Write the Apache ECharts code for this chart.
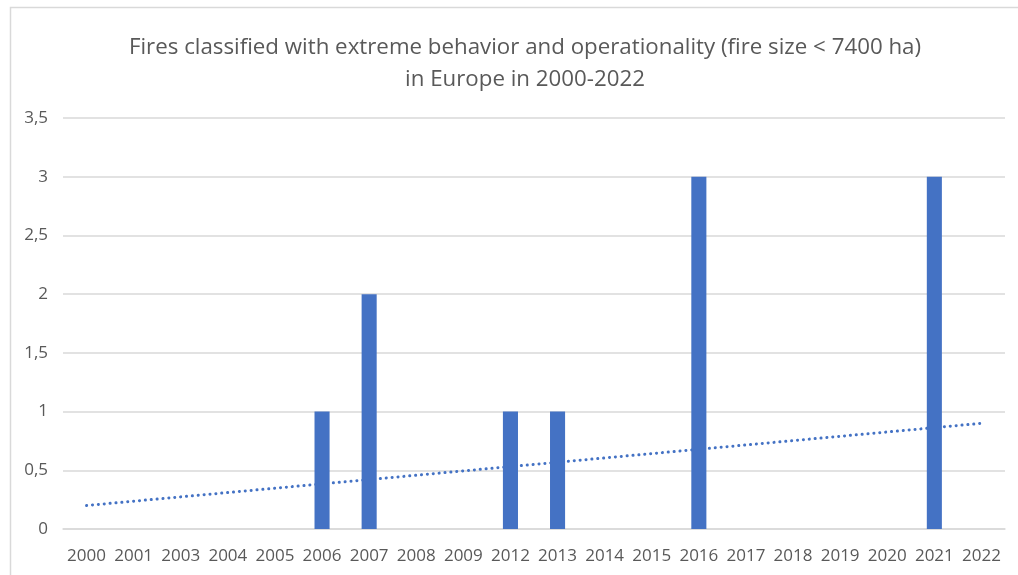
<!DOCTYPE html>
<html>
<head>
<meta charset="utf-8">
<script src="https://cdn.jsdelivr.net/npm/echarts@6/dist/echarts.min.js"></script>
<style>
  html, body { margin: 0; padding: 0; background: #fff; }
  #chart { width: 1018px; height: 575px; }
</style>
</head>
<body>
<div id="chart"></div>
<script>
// Years shown on the category axis (2002, 2010 and 2011 are not listed)
const years = ['2000', '2001', '2003', '2004', '2005', '2006', '2007', '2008', '2009', '2012',
               '2013', '2014', '2015', '2016', '2017', '2018', '2019', '2020', '2021', '2022'];
// Number of fires with extreme behaviour per year
const fireCounts = [0, 0, 0, 0, 0, 1, 2, 0, 0, 1, 1, 0, 0, 3, 0, 0, 0, 0, 3, 0];
// Linear trend end values (first and last year)
const trendStart = 0.2;
const trendEnd = 0.9;
// Value-axis tick labels use a decimal comma
const yTickLabels = { 0: '0', 0.5: '0,5', 1: '1', 1.5: '1,5', 2: '2', 2.5: '2,5', 3: '3', 3.5: '3,5' };

const trendData = years.map((_, i) => i === 0 ? trendStart : (i === years.length - 1 ? trendEnd : null));

const font = "'Open Sans', sans-serif";
const textColor = '#595959';

const chart = echarts.init(document.getElementById('chart'), null, { renderer: 'canvas' });
chart.setOption({
  animation: false,
  backgroundColor: '#ffffff',
  graphic: [{
    type: 'rect',
    shape: { x: 10.5, y: 7.5, width: 1030, height: 600 },
    style: { fill: 'none', stroke: '#d9d9d9', lineWidth: 1.5 },
    silent: true,
    z: -10
  }],
  title: {
    text: 'Fires classified with extreme behavior and operationality (fire size < 7400 ha)\nin Europe in 2000-2022',
    left: 520,
    textAlign: 'center',
    top: 27,
    textStyle: {
      fontFamily: font,
      fontSize: 22.3,
      fontWeight: 'normal',
      color: textColor,
      lineHeight: 32
    }
  },
  grid: { left: 63, right: 13, top: 118, bottom: 46, containLabel: false },
  xAxis: {
    type: 'category',
    data: years,
    axisLine: { lineStyle: { color: '#d9d9d9', width: 1.5 } },
    axisTick: { show: false },
    axisLabel: {
      color: textColor,
      fontFamily: font,
      fontSize: 17,
      margin: 19,
      interval: 0
    }
  },
  yAxis: {
    type: 'value',
    min: 0,
    max: 3.5,
    interval: 0.5,
    axisLine: { show: false },
    axisTick: { show: false },
    splitLine: { lineStyle: { color: '#d9d9d9', width: 1.5 } },
    axisLabel: {
      color: textColor,
      fontFamily: font,
      fontSize: 17,
      margin: 15,
      formatter: v => yTickLabels[v] !== undefined ? yTickLabels[v] : String(v)
    }
  },
  series: [
    {
      name: 'Trend',
      type: 'line',
      data: trendData,
      connectNulls: true,
      showSymbol: false,
      symbol: 'none',
      z: 1,
      lineStyle: { color: '#4472c4', width: 3, type: [0.1, 5.8], cap: 'round' }
    },
    {
      name: 'Fires',
      type: 'bar',
      data: fireCounts,
      barWidth: '32%',
      z: 2,
      itemStyle: { color: '#4472c4' }
    }
  ]
});
</script>
</body>
</html>
